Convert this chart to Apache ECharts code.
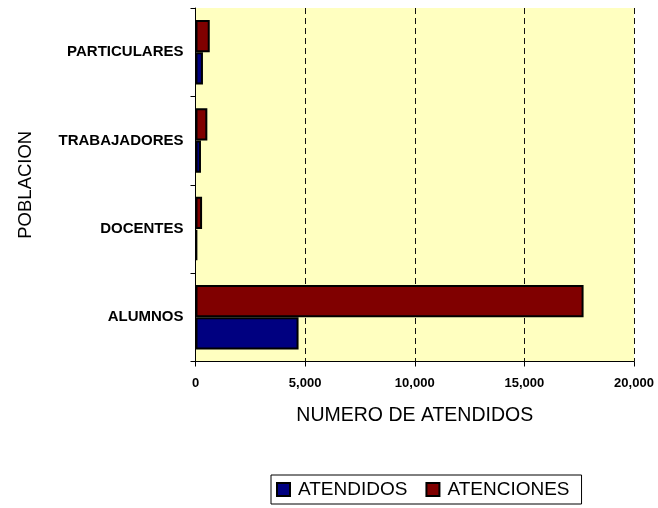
<!DOCTYPE html>
<html>
<head>
<meta charset="utf-8">
<script src="https://cdn.jsdelivr.net/npm/echarts@6/dist/echarts.min.js"></script>
<style>html,body{margin:0;padding:0;background:#fff;}#c{width:658px;height:508px;}</style>
</head>
<body>
<div id="c"></div>
<script>
const categories = ['ALUMNOS', 'DOCENTES', 'TRABAJADORES', 'PARTICULARES'];
const atendidos = [4700, 80, 250, 340];
const atenciones = [17700, 300, 540, 650];
const xTicks = [0, 5000, 10000, 15000, 20000];
const seriesNames = ['ATENDIDOS', 'ATENCIONES'];

const FONT = '"Liberation Sans", Arial, sans-serif';
const chart = echarts.init(document.getElementById('c'), null, {renderer: 'canvas'});
chart.setOption({
  animation: false,
  backgroundColor: '#fff',
  textStyle: {fontFamily: FONT},
  grid: {left: 195.5, right: 24, top: 8, bottom: 146.5, show: true,
         backgroundColor: '#FFFFC0', borderWidth: 0, containLabel: false},
  legend: {
    data: seriesNames,
    left: 271, top: 475,
    orient: 'horizontal',
    itemWidth: 13, itemHeight: 13, itemGap: 18,
    icon: 'rect',
    padding: [5, 12, 5, 5],
    borderColor: '#000', borderWidth: 1, backgroundColor: '#fff',
    textStyle: {fontFamily: FONT, fontSize: 19, color: '#000', padding: [0, 0, 0, 3]}
  },
  xAxis: {
    type: 'value',
    min: xTicks[0], max: xTicks[xTicks.length - 1], interval: 5000,
    name: 'NUMERO DE ATENDIDOS', nameLocation: 'middle', nameGap: 44,
    nameTextStyle: {fontFamily: FONT, fontSize: 19.5, color: '#000'},
    axisLine: {show: true, lineStyle: {color: '#000', width: 1}},
    axisTick: {show: true, length: 5, lineStyle: {color: '#000'}},
    axisLabel: {fontFamily: FONT, fontSize: 13, fontWeight: 'bold', color: '#000', margin: 15,
      formatter: v => v.toLocaleString('en-US')},
    splitLine: {show: true, lineStyle: {color: '#111', type: [6, 4], width: 1}}
  },
  yAxis: {
    type: 'category',
    data: categories,
    name: 'POBLACION', nameLocation: 'middle', nameGap: 160, nameRotate: 90,
    nameTextStyle: {fontFamily: FONT, fontSize: 18.5, color: '#000'},
    axisLine: {show: true, lineStyle: {color: '#000', width: 1}},
    axisTick: {show: true, length: 5, lineStyle: {color: '#000'}},
    axisLabel: {fontFamily: FONT, fontSize: 15, fontWeight: 'bold', color: '#000', margin: 12},
    splitLine: {show: false}
  },
  series: [
    {name: seriesNames[1], type: 'bar', data: atenciones, barGap: '0%', barCategoryGap: '27%',
     itemStyle: {color: '#800000', borderColor: '#000', borderWidth: 2}},
    {name: seriesNames[0], type: 'bar', data: atendidos, barGap: '0%', barCategoryGap: '27%',
     itemStyle: {color: '#000080', borderColor: '#000', borderWidth: 2}}
  ]
});
</script>
</body>
</html>
